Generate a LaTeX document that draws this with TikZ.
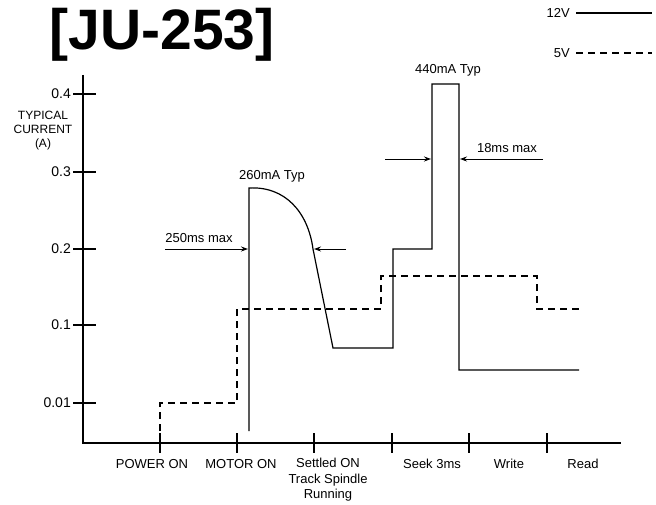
\documentclass[tikz,border=0pt]{standalone}
\usepackage{fontspec}
\setmainfont{Liberation Sans}
\usetikzlibrary{arrows.meta,positioning,calc}

\tikzset{
  axis/.style={line width=1.3pt},
  amp12/.style={line width=1.2pt},
  amp5/.style={line width=1.2pt,dash pattern=on 7pt off 5pt},
  lab/.style={font=\fontsize{13}{15}\selectfont,inner sep=1pt},
  dimarrow/.style={line width=0.9pt,-{Stealth[length=7pt,width=5pt]}}
}

\begin{document}
\begin{tikzpicture}[x=1pt,y=-1pt]
        \useasboundingbox (0,0) rectangle (656,505);
        \node[font=\fontsize{57}{62}\selectfont\bfseries] (title) at (162,35) {[JU-253]};
        % legend
        \node[lab,anchor=east] (v12) at (571,13) {12V};
        \node[lab,anchor=east] (v5) at (571,53) {5V};
        \coordinate (v12end) at (652,13);
        \coordinate (v5end) at (652,53);
        \draw[amp12] ([xshift=5pt]v12.east) -- (v12end);
        \draw[amp5] ([xshift=5pt]v5.east) -- (v5end);
        % axes
        \coordinate (top) at (83,75);
        \coordinate (O) at (83,443);
        \coordinate (right) at (621,443);
        \draw[axis] (top) -- (O) -- (right);
        \foreach \y/\v [count=\i] in {94/0.4,172/0.3,249/0.2,325/0.1,403/0.01}{
          \draw[axis] (73,\y) -- (96,\y);
          \node[lab,anchor=east,font=\fontsize{14}{16}\selectfont] (ytick\i) at (72,\y) {\v};
        }
        \node[align=center,inner sep=0pt,font=\fontsize{12}{14}\selectfont] (ylabel) at (43,131) {TYPICAL\\CURRENT\\(A)};
        \foreach \x in {160,237,314,392,469,547}
          \draw[axis] (\x,433) -- (\x,453);
        \node[lab] (poweron) at (152,464) {POWER ON};
        \node[lab] (motoron) at (241,464) {MOTOR ON};
        \node[lab,align=center,font=\fontsize{13}{15.5}\selectfont] (settled) at (328,480) {Settled ON\\Track Spindle\\Running};
        \node[lab] (seek) at (432,464) {Seek 3ms};
        \node[lab] (write) at (509,464) {Write};
        \node[lab] (read) at (583,464) {Read};
        % 12V current
        \draw[amp12] (249,431) -- (249,188) .. controls (285,186) and (308,212) .. (313,249)
          -- (333,348) -- (393,348) -- (393,249) -- (432,249) -- (432,84) -- (459,84)
          -- (459,370) -- (579,370);
        % 5V current
        \draw[amp5] (160,443) -- (160,403) -- (237,403) -- (237,309) -- (381,309)
          -- (381,276) -- (537,276) -- (537,309) -- (582,309);
        % timing marks
        \node[lab] (typ260) at (272,176) {260mA Typ};
        \node[lab] (typ440) at (448,70) {440mA Typ};
        \node[lab] (max250) at (199,238) {250ms max};
        \node[lab] (max18) at (507,148) {18ms max};
        \coordinate (a1) at (165,249);
        \coordinate (a2) at (248,249);
        \coordinate (a3) at (346,249);
        \coordinate (a4) at (314,249);
        \coordinate (b1) at (385,159);
        \coordinate (b2) at (431,159);
        \coordinate (b3) at (543,159);
        \coordinate (b4) at (460,159);
        \draw[dimarrow] (a1) -- (a2);
        \draw[dimarrow] (a3) -- (a4);
        \draw[dimarrow] (b1) -- (b2);
        \draw[dimarrow] (b3) -- (b4);
      \end{tikzpicture}
\end{document}
